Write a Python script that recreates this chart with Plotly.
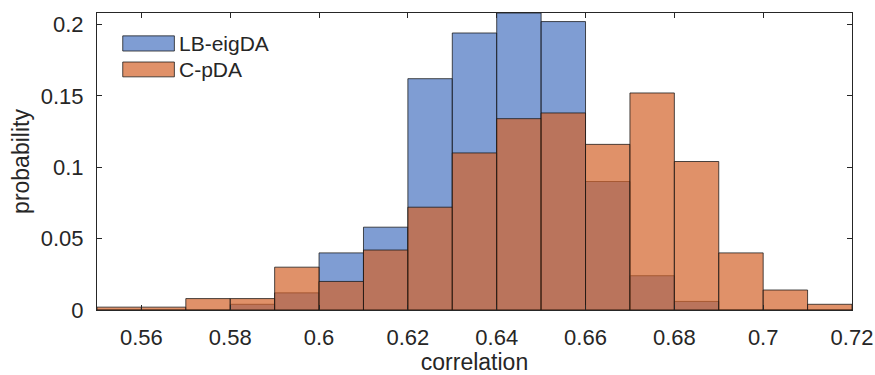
import plotly.graph_objects as go

bin_edges = [0.55, 0.56, 0.57, 0.58, 0.59, 0.60, 0.61, 0.62, 0.63, 0.64, 0.65,
             0.66, 0.67, 0.68, 0.69, 0.70, 0.71, 0.72]
lb_eigda = [0.0, 0.0, 0.0, 0.004, 0.012, 0.040, 0.058, 0.162, 0.194, 0.208, 0.202,
            0.090, 0.024, 0.006, 0.0, 0.0, 0.0]
c_pda = [0.002, 0.002, 0.008, 0.008, 0.030, 0.020, 0.042, 0.072, 0.110, 0.134, 0.138,
         0.116, 0.152, 0.104, 0.040, 0.014, 0.004]
series_names = ["LB-eigDA", "C-pDA"]
x_ticks = [0.56, 0.58, 0.60, 0.62, 0.64, 0.66, 0.68, 0.70, 0.72]
y_ticks = [0, 0.05, 0.1, 0.15, 0.2]

blue = "rgba(72,115,192,0.7)"
orange = "rgba(211,98,42,0.7)"
edge = "rgba(20,20,20,0.75)"

centers = [(bin_edges[i] + bin_edges[i + 1]) / 2 for i in range(len(bin_edges) - 1)]
widths = [bin_edges[i + 1] - bin_edges[i] for i in range(len(bin_edges) - 1)]

fig = go.Figure()
for name, vals, col in [(series_names[0], lb_eigda, blue), (series_names[1], c_pda, orange)]:
    fig.add_trace(go.Bar(x=centers, y=vals, width=widths, name=name,
                         marker=dict(color=col, line=dict(color=edge, width=1)),
                         showlegend=False))

font = "Liberation Sans, Arial, Helvetica, sans-serif"
fig.update_layout(
    barmode="overlay",
    width=875, height=375,
    margin=dict(l=97, r=23, t=13, b=65),
    plot_bgcolor="white", paper_bgcolor="white",
    font=dict(family=font, size=22, color="#262626"),
    xaxis=dict(range=[0.55, 0.72], tickvals=x_ticks,
               ticktext=[("%g" % v) for v in x_ticks],
               ticks="inside", ticklen=5, tickcolor="#262626",
               ticklabelstandoff=8, automargin=False,
               showline=True, linecolor="#262626", linewidth=1, mirror="ticks",
               showgrid=False, zeroline=False,
               title=dict(text="correlation", font=dict(size=23), standoff=4)),
    yaxis=dict(range=[0, 0.208], tickvals=y_ticks,
               ticktext=[("%g" % v) for v in y_ticks],
               ticks="inside", ticklen=5, tickcolor="#262626",
               ticklabelstandoff=8, automargin=False,
               showline=True, linecolor="#262626", linewidth=1, mirror="ticks",
               showgrid=False, zeroline=False,
               title=dict(text="probability", font=dict(size=23), standoff=4)),
)

# legend drawn as patches + text
legend_rows = [(0.923, 0.872, blue), (0.835, 0.785, orange)]
for (y1, y0, col), name in zip(legend_rows, series_names):
    fig.add_shape(type="rect", xref="paper", yref="paper", x0=0.0341, x1=0.1025,
                  y0=y0, y1=y1, fillcolor=col, line=dict(color=edge, width=1))
    fig.add_annotation(xref="paper", yref="paper", x=0.1065, y=(y0 + y1) / 2,
                       text=name, showarrow=False, xanchor="left", yanchor="middle",
                       font=dict(size=21, color="#262626"))

fig.write_html("out.html", config={"displayModeBar": False},
               post_script="document.body.style.margin='0';document.body.style.padding='0';")
